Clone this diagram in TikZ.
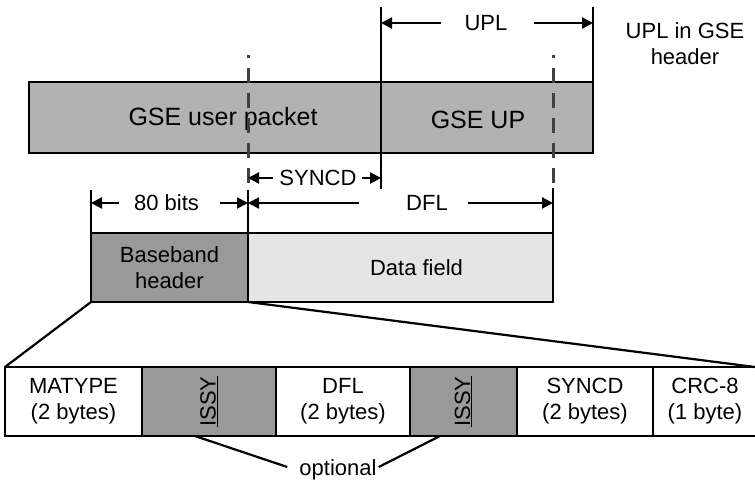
\documentclass[tikz,border=0pt]{standalone}
\usepackage{fontspec}
\setmainfont{Liberation Sans}
\usetikzlibrary{arrows.meta,positioning}
\newcommand\lbl{\fontsize{22}{26}\selectfont}
\newcommand\pktfont{\fontsize{25}{28}\selectfont}
\definecolor{pktgray}{gray}{0.70}
\definecolor{hdrgray}{gray}{0.60}
\definecolor{fldgray}{gray}{0.90}
\definecolor{cutgray}{gray}{0.25}
\tikzset{
  box/.style={draw, line width=2.8pt, inner sep=0pt, outer sep=0pt, font=\lbl, align=center},
  txt/.style={inner sep=0pt, font=\lbl, align=center},
  dim/.style={-{Triangle[length=11pt,width=11pt]}, line width=2.2pt},
  ext/.style={line width=2.6pt},
  cut/.style={line width=3pt, draw=cutgray, dash pattern=on 15pt off 10pt, dash phase=12pt},
  ln/.style={line width=2.2pt},
}
\begin{document}
\begin{tikzpicture}[x=1pt, y=-1pt]
  \useasboundingbox (0,0) rectangle (755,488);
  % GSE packets
  \node[box, fill=pktgray, anchor=north west, minimum width=352pt, minimum height=71pt] (gup) at (29,82) {};
  \node[box, fill=pktgray, right=0pt of gup, minimum width=212pt, minimum height=71pt] (gsu) {};
  \node[txt, font=\pktfont] (guptxt) at ([xshift=18pt,yshift=-2pt]gup.center) {GSE user packet};
  \node[txt, font=\pktfont] (gsutxt) at ([xshift=-9pt,yshift=-2pt]gsu.center) {GSE UP};
  % BBFrame
  \node[box, fill=hdrgray, anchor=north west, minimum width=157pt, minimum height=69pt] (bb) at (91,233) {\fontsize{22}{28}\selectfont Baseband\\header};
  \node[box, fill=fldgray, right=0pt of bb, minimum width=305pt, minimum height=69pt] (df) {};
  \node[txt] (dftxt) at ([xshift=16pt]df.center) {Data field};
  % cut lines
  \draw[cut] (248,55) -- (248,188);
  \draw[cut] (553,55) -- (553,188);
  % extension lines
  \draw[ext] (381,7) -- (381,189);
  \draw[ext] (gsu.north east) -- ++(0,-75);
  \draw[ext] (bb.north west) -- ++(0,-43);
  \draw[ext] (bb.north east) -- ++(0,-43);
  \draw[ext] (df.north east) -- ++(0,-45);
  % UPL
  \node[txt] (upl) at (486,23) {UPL};
  \draw[dim] ([xshift=-23pt]upl.west) -- (381,23);
  \draw[dim] ([xshift=26pt]upl.east) -- (593,23);
  \node[txt] (uplgse) at (685,44) {UPL in GSE\\header};
  % SYNCD
  \node[txt] (syncd) at (318,178) {SYNCD};
  \draw[dim] ([xshift=-6pt]syncd.west) -- (248,178);
  \draw[dim] ([xshift=5pt]syncd.east) -- (381,178);
  % 80 bits
  \node[txt] (bits) at (166.5,203) {80 bits};
  \draw[dim] ([xshift=-15pt]bits.west) -- (bb.north west |- 0,203);
  \draw[dim] ([xshift=21pt]bits.east) -- (bb.north east |- 0,203);
  % DFL
  \node[txt] (dfl) at (427,203) {DFL};
  \draw[dim] ([xshift=-47pt]dfl.west) -- (bb.north east |- 0,203);
  \draw[dim] ([xshift=20pt]dfl.east) -- (df.north east |- 0,203);
  % baseband header fields
  \node[box, fill=white, anchor=north west, minimum width=137pt, minimum height=69pt] (mat) at (5,367) {MATYPE\\(2 bytes)};
  \node[box, fill=hdrgray, right=0pt of mat, minimum width=134pt, minimum height=69pt] (issya) {\rotatebox{90}{\underline{ISSY}}};
  \node[box, fill=white, right=0pt of issya, minimum width=134pt, minimum height=69pt] (dflf) {DFL\\(2 bytes)};
  \node[box, fill=hdrgray, right=0pt of dflf, minimum width=107pt, minimum height=69pt] (issyb) {\rotatebox{90}{\underline{ISSY}}};
  \node[box, fill=white, right=0pt of issyb, minimum width=136pt, minimum height=69pt] (syf) {SYNCD\\(2 bytes)};
  \node[box, fill=white, right=0pt of syf, minimum width=104pt, minimum height=69pt] (crc) {CRC-8\\(1 byte)};
  \draw[ln] (bb.south west) -- (mat.north west);
  \draw[ln] (bb.south east) -- ([xshift=-2pt]crc.north east);
  % optional
  \node[txt] (opt) at (338,470) {optional};
  \draw[ln] ([xshift=-14pt]issya.south) -- ([xshift=-12pt,yshift=3pt]opt.west);
  \draw[ln] ([xshift=-23.5pt]issyb.south) -- ([xshift=2pt,yshift=3pt]opt.east);
\end{tikzpicture}
\end{document}
